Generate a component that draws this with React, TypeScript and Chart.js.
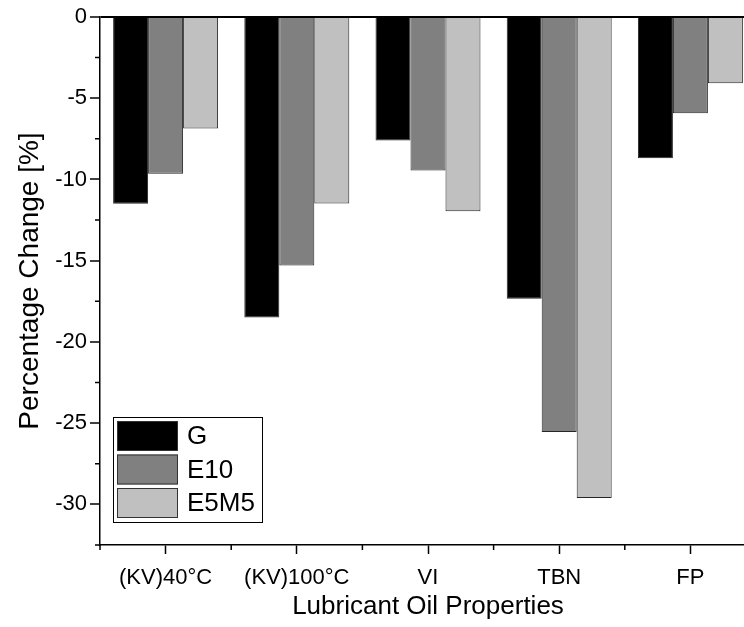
import React, { useEffect, useRef } from 'react';
import { Chart, registerables } from 'chart.js';

Chart.register(...registerables);

const categories = ['(KV)40°C', '(KV)100°C', 'VI', 'TBN', 'FP'];
const seriesNames = ['G', 'E10', 'E5M5'];
const valuesG = [-11.5, -18.5, -7.6, -17.35, -8.7];
const valuesE10 = [-9.65, -15.3, -9.45, -25.55, -5.92];
const valuesE5M5 = [-6.87, -11.48, -11.96, -29.6, -4.08];
const seriesColors = ['#000000', '#808080', '#c0c0c0'];
const yMin = -32.5;
const yMax = 0;
const yStep = 2.5;
const yLabelStep = 5;
const xTitle = 'Lubricant Oil Properties';
const yTitle = 'Percentage Change [%]';

const FONT = "'Liberation Sans', Arial, sans-serif";

const isMajor = (v: number) => Math.abs(v / yLabelStep - Math.round(v / yLabelStep)) < 1e-6;

const minorTicksPlugin = {
  id: 'minorTicks',
  afterDraw(chart: any) {
    const { ctx, chartArea } = chart;
    const x = chart.scales.x;
    const y = chart.scales.y;
    ctx.save();
    ctx.strokeStyle = '#000';
    ctx.lineWidth = 1.5;
    ctx.beginPath();
    y.ticks.forEach((t: any) => {
      if (!isMajor(t.value)) {
        const py = y.getPixelForValue(t.value);
        ctx.moveTo(chartArea.left - 5, py);
        ctx.lineTo(chartArea.left, py);
      }
    });
    for (let i = 0; i <= categories.length; i++) {
      const px = x.getPixelForValue(i - 0.5);
      ctx.moveTo(px, chartArea.bottom);
      ctx.lineTo(px, chartArea.bottom + 5);
    }
    ctx.stroke();
    ctx.restore();
  },
};

const boxLegendPlugin = {
  id: 'boxLegend',
  afterDraw(chart: any) {
    const { ctx, chartArea } = chart;
    const ds = chart.data.datasets;
    const pad = 4;
    const rowH = 33.5;
    const swW = 61;
    const swH = 30;
    const boxW = 149;
    const boxH = ds.length * rowH - (rowH - swH) + pad * 2;
    const bx = chartArea.left + 13;
    const by = chartArea.bottom - 23 - boxH;
    ctx.save();
    ctx.fillStyle = '#fff';
    ctx.fillRect(bx, by, boxW, boxH);
    ctx.strokeStyle = '#000';
    ctx.lineWidth = 1;
    ctx.strokeRect(bx + 0.5, by + 0.5, boxW, boxH);
    ctx.font = `26px ${FONT}`;
    ctx.textBaseline = 'middle';
    ctx.textAlign = 'left';
    ds.forEach((d: any, i: number) => {
      const sx = bx + pad;
      const sy = by + pad + i * rowH;
      ctx.fillStyle = d.backgroundColor;
      ctx.fillRect(sx, sy, swW, swH);
      ctx.strokeStyle = '#333';
      ctx.lineWidth = 1;
      ctx.strokeRect(sx + 0.5, sy + 0.5, swW - 1, swH - 1);
      ctx.fillStyle = '#000';
      ctx.fillText(d.label, sx + swW + 9, sy + swH / 2 + 1);
    });
    ctx.restore();
  },
};

export default function App() {
  const ref = useRef<HTMLCanvasElement>(null);
  useEffect(() => {
    if (!ref.current) return;
    const seriesValues = [valuesG, valuesE10, valuesE5M5];
    const chart = new Chart(ref.current, {
      type: 'bar',
      data: {
        labels: categories,
        datasets: seriesNames.map((name, i) => ({
          label: name,
          data: seriesValues[i],
          backgroundColor: seriesColors[i],
          borderColor: '#262626',
          borderWidth: 1,
          categoryPercentage: 0.8,
          barPercentage: 1.0,
        })),
      },
      options: {
        animation: false,
        responsive: false,
        devicePixelRatio: 1,
        layout: { padding: { top: 17, right: 4, left: 0, bottom: 0 } },
        plugins: { legend: { display: false }, tooltip: { enabled: false } },
        scales: {
          x: {
            type: 'category',
            offset: true,
            afterFit: (s: any) => { s.height = 82; },
            grid: {
              offset: false,
              drawOnChartArea: false,
              drawTicks: true,
              tickLength: 9,
              tickWidth: 1.5,
              tickColor: '#000',
              color: '#000',
            },
            border: { display: true, color: '#000', width: 1.5 },
            ticks: {
              color: '#000',
              font: { family: FONT, size: 22 },
              padding: 11,
              maxRotation: 0,
              autoSkip: false,
            },
            title: {
              display: true,
              text: xTitle,
              color: '#000',
              font: { family: FONT, size: 26 },
              padding: { top: 0, bottom: 5 },
            },
          },
          y: {
            type: 'linear',
            min: yMin,
            max: yMax,
            afterFit: (s: any) => { s.width = 100; },
            grid: {
              drawOnChartArea: true,
              drawTicks: true,
              tickLength: 10,
              lineWidth: 2,
              tickWidth: 1.5,
              color: (c: any) => (c.tick && c.tick.value === 0 ? '#000' : 'rgba(0,0,0,0)'),
              tickColor: (c: any) => (c.tick && isMajor(c.tick.value) ? '#000' : 'rgba(0,0,0,0)'),
            },
            border: { display: true, color: '#000', width: 1.5 },
            ticks: {
              stepSize: yStep,
              color: '#000',
              font: { family: FONT, size: 22 },
              padding: 3,
              autoSkip: false,
              callback: (v: any) => (isMajor(Number(v)) ? String(v) : ''),
            },
            title: {
              display: true,
              text: yTitle,
              color: '#000',
              font: { family: FONT, size: 28 },
              padding: { top: 13, bottom: 0 },
            },
          },
        },
      },
      plugins: [minorTicksPlugin, boxLegendPlugin],
    });
    return () => chart.destroy();
  }, []);
  return (
    <div style={{ position: 'fixed', left: 0, top: 0, width: 744, height: 627, overflow: 'hidden', background: '#fff' }}>
      <canvas ref={ref} width={760} height={627} style={{ width: 760, height: 627, display: 'block' }} />
    </div>
  );
}
